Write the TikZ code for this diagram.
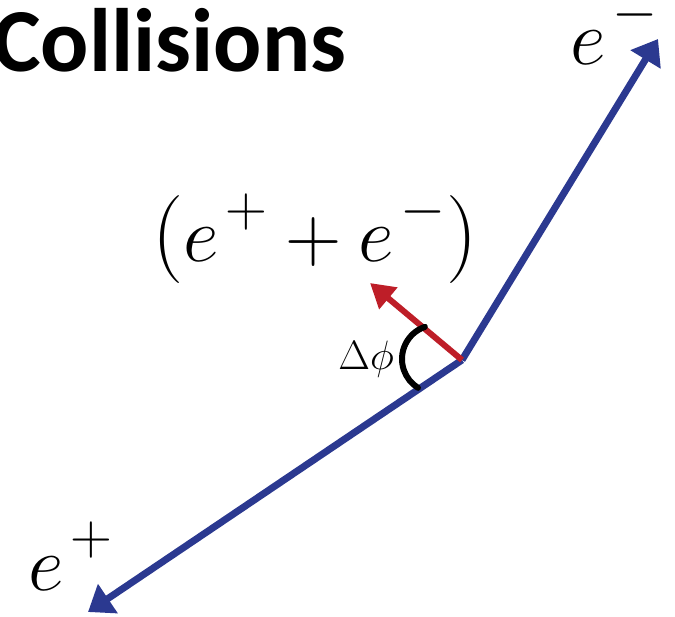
\RequirePackage{fix-cm}
\documentclass[tikz,border=0pt]{standalone}
\usepackage{fontspec}
\newfontfamily\titlefont[BoldFont={Carlito Bold}]{Carlito}
\usetikzlibrary{arrows.meta}
\DeclareMathSizes{78}{78}{58}{44}
\newcommand\supr[1]{^{\raisebox{7pt}{$\scriptstyle\mkern2mu #1$}}}
\newcommand\bigparen[1]{{\fontsize{88}{90}\selectfont #1}}
\definecolor{eblue}{RGB}{43,57,144}
\definecolor{ered}{RGB}{190,30,40}
\begin{document}
\begin{tikzpicture}[x=1pt,y=-1pt,
  track/.style={draw=eblue,line width=7pt,-{Triangle[length=24pt,width=34pt]}},
  sumarrow/.style={draw=ered,line width=6pt,-{Triangle[length=24pt,width=27pt]}},
  anglearc/.style={draw=black,line width=6pt,line cap=round},
  lbl/.style={inner sep=0pt,font=\fontsize{78}{80}\selectfont}]
\useasboundingbox (0,0) rectangle (675,617);
\coordinate (v) at (462,360);
\coordinate (tipm) at (658,39);
\coordinate (tipp) at (88,612);
\coordinate (tips) at (370,283);
\coordinate (arcc) at (436,359);
\node[anchor=base west,inner sep=0pt,font=\titlefont\bfseries\fontsize{90}{92}\selectfont] (title) at (-7,72) {Collisions};
\draw[track] (v) -- (tipm);
\draw[track] (v) -- (tipp);
\draw[sumarrow] (v) -- (tips);
\draw[anglearc] ([shift={(109:34pt)}]arcc) arc[start angle=109,end angle=238,radius=34pt];
\node[lbl,anchor=base west] (em) at (570,65) {$e\supr{-}$};
\node[lbl,anchor=base west] (ep) at (28,590) {$e\supr{+}$};
\node[lbl,anchor=base] (sum) at (315,262) {\bigparen{(}$e\supr{+}+e\supr{-}$\bigparen{)}};
\node[inner sep=0pt,anchor=base east,font=\fontsize{41}{42}\selectfont] (dphi) at (394,370) {$\Delta\phi$};
\end{tikzpicture}
\end{document}
